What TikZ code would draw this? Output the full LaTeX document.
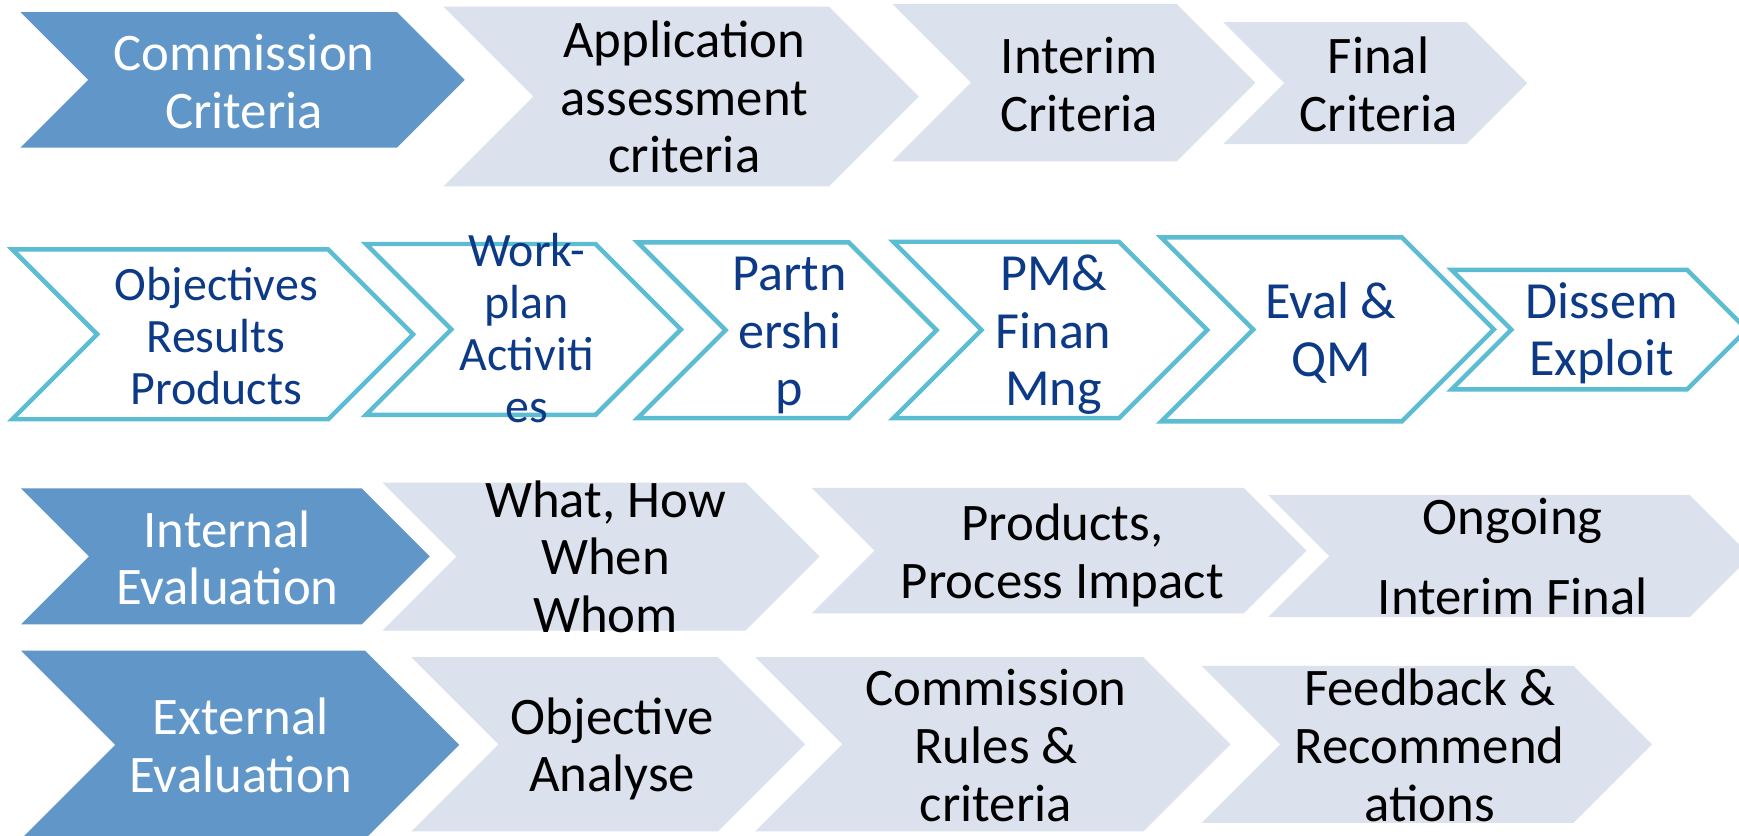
\documentclass[tikz,border=0pt]{standalone}
\usepackage{fontspec}
\setmainfont{Carlito}
\definecolor{chevdark}{HTML}{6096C8}
\definecolor{chevlight}{HTML}{DCE1EE}
\definecolor{chevline}{HTML}{5CBCD2}
\definecolor{navytext}{HTML}{0C3A87}
\newcommand\chevshape[5]{%
  \pgfmathsetmacro\chevH{(#5-#3)/2}%
  \pgfmathsetmacro\chevM{(#5+#3)/2}%
  \path[#1] (#2,#3) -- ({#4-\chevH},#3) -- (#4,\chevM) -- ({#4-\chevH},#5) -- (#2,#5) -- ({#2+\chevH},\chevM) -- cycle;
}
\tikzset{
  darkchev/.style={fill=chevdark},
  lightchev/.style={fill=chevlight},
  linechev/.style={draw=chevline, line width=4pt, fill=white, line join=miter},
  basetxt/.style={inner sep=0pt, align=center, font=\fontsize{47.6}{52}\selectfont},
  whitetxt/.style={basetxt, text=white},
  blacktxt/.style={basetxt, text=black},
  navytxt/.style={basetxt, text=navytext, font=\fontsize{47}{52}\selectfont},
  smallnavy/.style={basetxt, text=navytext, font=\fontsize{43.2}{47}\selectfont},
}
\begin{document}
\begin{tikzpicture}[x=1pt,y=-1pt]
\useasboundingbox (0,0) rectangle (1568,752.9);
\clip (0,0) rectangle (1568,752.9);
\fill[white] (0,0) rectangle (1568,752.9);
% row 1
\chevshape{darkchev}{18.5}{11}{419}{133}
\chevshape{lightchev}{400}{6}{828.5}{168}
\chevshape{lightchev}{804.5}{3.6}{1132}{145.6}
\chevshape{lightchev}{1103}{20}{1377}{130}
\node[whitetxt] (cc) at (220,79.5) {\strut Commission\\Criteria\strut};
\node[blacktxt] (aac) at (617,93.5) {\strut Application\\assessment\\criteria\strut};
\node[blacktxt] (ic) at (973,82) {\strut Interim\\Criteria\strut};
\node[blacktxt] (fc) at (1243,82) {\strut Final\\Criteria\strut};
% row 2
\chevshape{linechev}{11}{224.8}{372.5}{378}
\chevshape{linechev}{330}{220}{614}{374}
\chevshape{linechev}{575}{218.5}{844.5}{377}
\chevshape{linechev}{805.5}{218}{1088.5}{377}
\chevshape{linechev}{1047}{214}{1347}{380}
\chevshape{linechev}{1309}{243.4}{1575}{351}
\node[smallnavy] (orp) at (195,308.5) {\strut Objectives\\Results\\Products\strut};
\node[smallnavy] (wpa) at (475,301) {\strut Work-\\plan\\Activiti\\es\strut};
\node[navytxt] (ps) at (712,303.5) {\strut Partn\\ershi\\p\strut};
\node[navytxt] (pm) at (950,303.5) {\strut PM\&\\Finan\\Mng\strut};
\node[navytxt] (eq) at (1200,303) {\strut Eval \&\\QM\strut};
\node[navytxt] (de) at (1444,302.5) {\strut Dissem\\Exploit\strut};
% row 3
\chevshape{darkchev}{19}{440.3}{387.5}{563}
\chevshape{lightchev}{345}{435.2}{739}{568.5}
\chevshape{lightchev}{732}{440}{1178}{553}
\chevshape{lightchev}{1143.5}{446.3}{1578.5}{556.5}
\node[whitetxt] (ie) at (205,509) {\strut Internal\\Evaluation\strut};
\node[blacktxt] (wh) at (546,508) {\strut What, How\\When\\Whom\strut};
\node[blacktxt] (ppi) at (958,503) {\strut Products,\\Process Impact\strut};
\node[blacktxt] (oif) at (1364,507.5) {\strut Ongoing\\[20pt]Interim Final\strut};
% row 4
\chevshape{darkchev}{19}{586.6}{414}{756.6}
\chevshape{lightchev}{371}{592.6}{726}{749.6}
\chevshape{lightchev}{681}{592.6}{1109.5}{749.6}
\chevshape{lightchev}{1083.5}{600.4}{1489.5}{742}
\node[whitetxt] (ee) at (217,678) {\strut External\\Evaluation\strut};
\node[blacktxt] (oa) at (552,677.5) {\strut Objective\\Analyse\strut};
\node[blacktxt] (crc) at (898,678) {\strut Commission\\Rules \&\\criteria\strut};
\node[blacktxt] (fr) at (1289,678) {\strut Feedback \&\\Recommend\\ations\strut};
\end{tikzpicture}
\end{document}
